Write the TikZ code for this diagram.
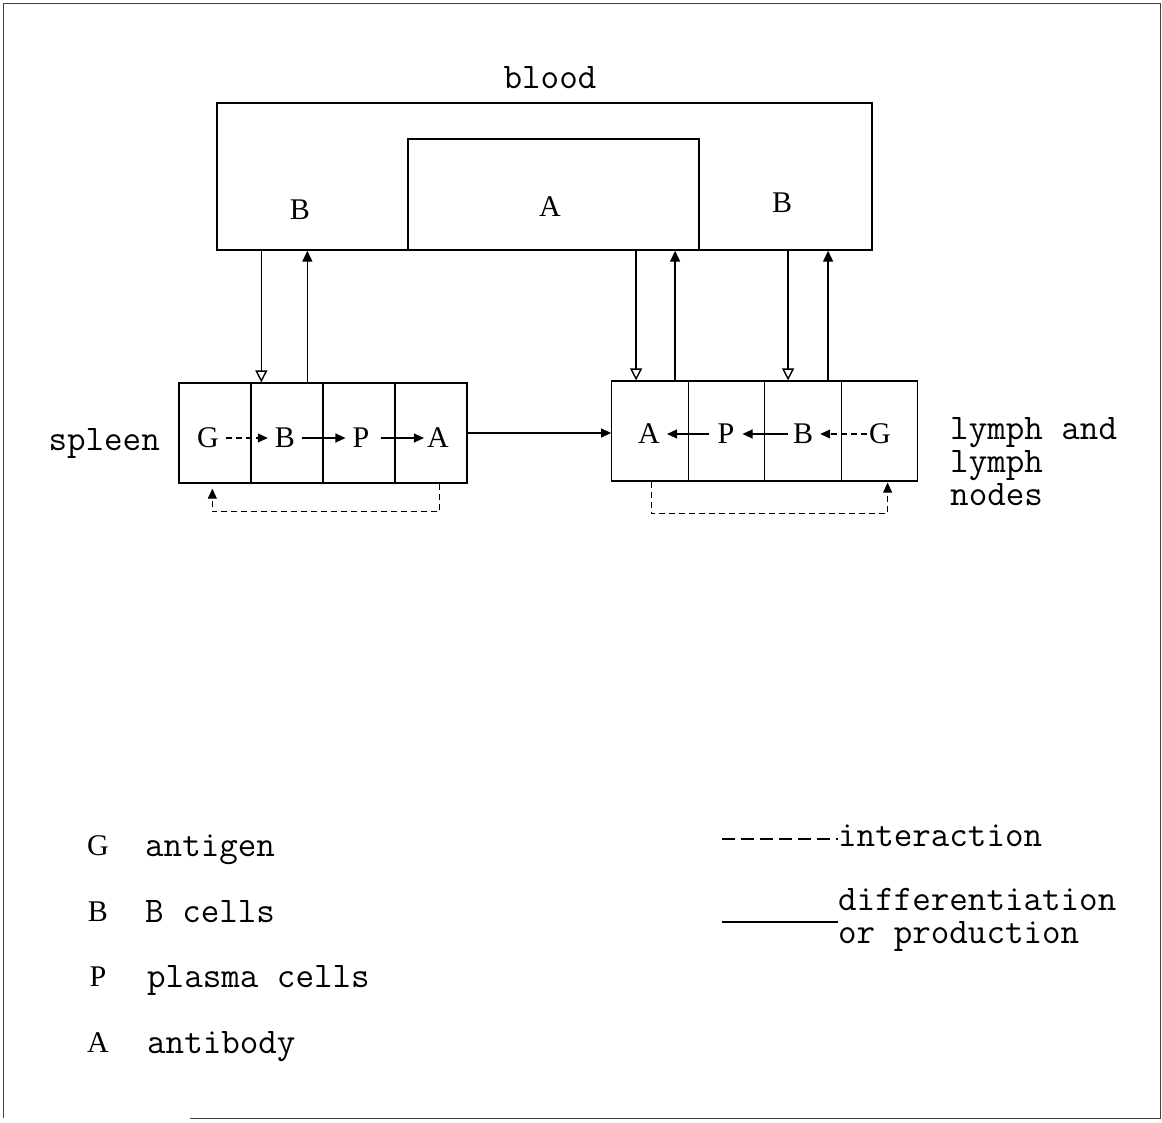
\documentclass[tikz,border=0pt]{standalone}
\usepackage{fontspec}
\newfontfamily\letterfont{Liberation Serif}
\usetikzlibrary{arrows.meta,positioning,calc}

\begin{document}
\begin{tikzpicture}[x=1pt,y=-1pt,
    organ/.style={rectangle, draw, line width=1.4pt, inner sep=0pt},
    cell/.style={rectangle, draw, line width=1.3pt, minimum width=72pt, minimum height=100pt, inner sep=0pt},
    lcell/.style={cell, minimum width=76.5pt},
    ltr/.style={font=\letterfont\fontsize{30}{34}\selectfont, inner sep=1pt},
    lbl/.style={font=\ttfamily\fontsize{36}{33}\selectfont, inner sep=0pt},
    prod/.style={line width=1.1pt, -{Triangle[length=10pt,width=9pt]}},
    inter/.style={line width=1.1pt, dash pattern=on 6pt off 4pt, -{Triangle[length=10pt,width=9pt]}},
    down/.style={line width=1.4pt, -{Triangle[open,length=12pt,width=12pt]}},
    up/.style={line width=1.4pt, -{Triangle[length=11pt,width=10pt]}}
]
    \useasboundingbox (0,0) rectangle (1162,1122);
    % page frame
    \draw[line width=0.9pt, black!75] (190,1118) -- (1160,1118) -- (1160,3) -- (3,3) -- (3,1118);

    % blood
    \node[organ, minimum width=655pt, minimum height=147pt] (blood) at (544.5,176.5) {};
    \node[organ, minimum width=291pt, minimum height=111pt] (bloodA) at (553.5,194.5) {};
    \node[lbl, anchor=base] (bloodlbl) at (550,88) {blood};
    \node[ltr] (bL) at (300,210) {B};
    \node[ltr] (aM) at (550,207) {A};
    \node[ltr] (bR) at (782,203) {B};

    % spleen
    \node[cell] (sG) at (215,433) {};
    \node[cell] (sB) at (287,433) {};
    \node[cell] (sP) at (359,433) {};
    \node[cell] (sA) at (431,433) {};
    \node[ltr] (gS) at (208,438) {G};
    \node[ltr] (bS) at (285,438) {B};
    \node[ltr] (pS) at (361,438) {P};
    \node[ltr] (aS) at (438,438) {A};
    \node[lbl, anchor=base east] (spleen) at (160,450) {spleen};

    \draw[inter, shorten <=6pt, shorten >=6pt] (gS) -- (bS);
    \draw[prod, shorten <=6pt, shorten >=6pt] (bS) -- (pS);
    \draw[prod, shorten <=10pt, shorten >=2pt] (pS) -- (aS);

    % lymph and lymph nodes
    \node[lcell] (lA) at (650,431) {};
    \node[lcell] (lP) at (726.5,431) {};
    \node[lcell] (lB) at (803,431) {};
    \node[lcell] (lG) at (879.5,431) {};
    \node[ltr] (aL) at (649,434) {A};
    \node[ltr] (pL) at (726,434) {P};
    \node[ltr] (bLy) at (803,434) {B};
    \node[ltr] (gL) at (880,434) {G};
    \node[lbl, anchor=north west, align=left] (lymph) at (950,417) {lymph and\\lymph\\nodes};

    \draw[prod, shorten <=7pt, shorten >=6pt] (pL) -- (aL);
    \draw[prod, shorten <=4pt, shorten >=7pt] (bLy) -- (pL);
    \draw[inter, shorten <=1pt, shorten >=6pt] (gL) -- (bLy);

    \draw[prod] (sA.east) -- (sA.east -| lA.west);

    % blood exchange
    \coordinate (sdn) at ($(sB.north west)+(11,0)$);
    \coordinate (sup1) at ($(sB.north west)+(57,0)$);
    \coordinate (ldn) at ($(lA.north west)+(25,0)$);
    \coordinate (lup) at ($(lA.north west)+(64,0)$);
    \coordinate (ldn2) at ($(lB.north west)+(24,0)$);
    \coordinate (lup2) at ($(lB.north west)+(64,0)$);
    \draw[down] (sdn |- blood.south) -- (sdn);
    \draw[up] (sup1) -- (sup1 |- blood.south);
    \draw[down] (ldn |- blood.south) -- (ldn);
    \draw[up] (lup) -- (lup |- blood.south);
    \draw[down] (ldn2 |- blood.south) -- (ldn2);
    \draw[up] (lup2) -- (lup2 |- blood.south);

    % feedback of antibody on antigen
    \coordinate (sfa) at ($(sA.south west)+(45,0)$);
    \coordinate (sfg) at ($(sG.south west)+(34,0)$);
    \coordinate (lfa) at ($(lA.south west)+(40,0)$);
    \coordinate (lfg) at ($(lG.south west)+(47,0)$);
    \draw[inter] (sfa) -- ++(0,28) -| ([yshift=-5pt]sfg);
    \draw[inter] (lfa) -- ++(0,32) -| ([yshift=-1pt]lfg);

    % key
    \node[ltr] (kG) at (98,846) {G};
    \node[ltr] (kB) at (98,912) {B};
    \node[ltr] (kP) at (98,977) {P};
    \node[ltr] (kA) at (98,1043) {A};
    \node[lbl, anchor=base west] (kGt) at (145,856) {antigen};
    \node[lbl, anchor=base west] (kBt) at (145,922) {B cells};
    \node[lbl, anchor=base west] (kPt) at (147,987) {plasma cells};
    \node[lbl, anchor=base west] (kAt) at (147,1053) {antibody};

    \node[lbl, anchor=base west] (intText) at (838,846) {interaction};
    \coordinate (intKey) at (722,839);
    \draw[line width=1.2pt, dash pattern=on 13pt off 6pt] (intKey) -- (intKey -| intText.west);
    \node[lbl, anchor=north west, align=left] (prodText) at (838,888) {differentiation\\or production};
    \coordinate (prodKey) at (722,922);
    \draw[line width=1.2pt] (prodKey) -- (prodKey -| prodText.west);
\end{tikzpicture}
\end{document}
